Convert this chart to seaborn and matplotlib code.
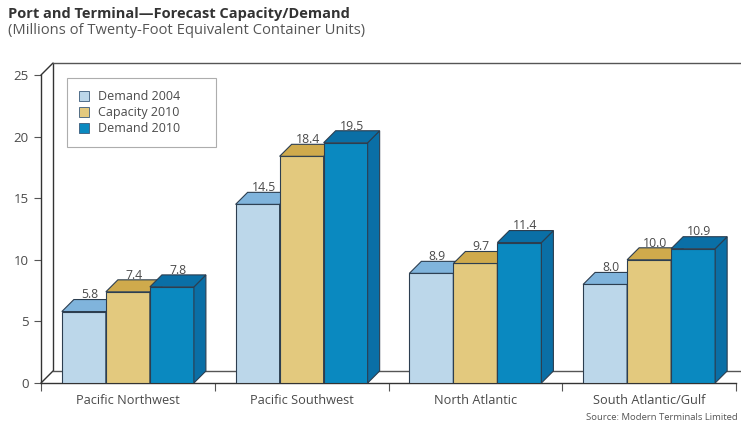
import matplotlib
matplotlib.use("Agg")
import matplotlib.pyplot as plt
from matplotlib.patches import Polygon, Patch
import seaborn as sns
import pandas as pd

# Forecast data (millions of TEU)
regions = ["Pacific Northwest", "Pacific Southwest", "North Atlantic", "South Atlantic/Gulf"]
series = ["Demand 2004", "Capacity 2010", "Demand 2010"]
demand_2004 = [5.8, 14.5, 8.9, 8.0]
capacity_2010 = [7.4, 18.4, 9.7, 10.0]
demand_2010 = [7.8, 19.5, 11.4, 10.9]
y_ticks = [0, 5, 10, 15, 20, 25]

front_colors = ["#bcd7ea", "#e3c97e", "#0a89c0"]
top_colors = ["#80b4dc", "#cfaa4c", "#0a6fa6"]
edge = "#2c3e50"
text_gray = "#4a4a4a"

df = pd.DataFrame({
    "region": regions * 3,
    "series": [s for s in series for _ in regions],
    "value": demand_2004 + capacity_2010 + demand_2010,
})

sns.set_theme(style="white")
plt.rcParams["font.family"] = ["Open Sans", "DejaVu Sans"]

fig = plt.figure(figsize=(7.41, 4.24), dpi=100)
ax = fig.add_axes([41 / 741, 41 / 424, 695 / 741, 308 / 424])

sns.barplot(data=df, x="region", y="value", hue="series", order=regions,
            hue_order=series, palette=front_colors, saturation=1, width=0.76, gap=0,
            edgecolor=edge, linewidth=0.8, legend=False, ax=ax)

ax.set_xlim(-0.5, 3.5)
ax.set_ylim(0, 25)

# depth of the pseudo-3D extrusion, in data units
px_x = 4.0 / 695
px_y = 25.0 / 308
dx, dy = 12 * px_x, 12 * px_y

# back wall and floor outline
wall_kw = dict(color="#333333", lw=1.0, clip_on=False, zorder=1)
ax.plot([-0.5, -0.5 + dx], [25, 25 + dy], **wall_kw)
ax.plot([-0.5 + dx, -0.5 + dx], [dy, 25 + dy], **wall_kw)
ax.plot([-0.5 + dx, 3.5 + dx], [25 + dy, 25 + dy], color="#555555", lw=1.0, clip_on=False, zorder=1)
ax.plot([-0.5, -0.5 + dx], [0, dy], **wall_kw)
ax.plot([-0.5 + dx, 3.5 + dx], [dy, dy], color="#555555", lw=1.0, clip_on=False, zorder=1)

# extrude each bar: top face and right side face
n = len(regions)
for i, bar in enumerate(ax.patches[: len(series) * n]):
    k = i // n
    bar.set_zorder(3 + 2 * k)
    x0 = bar.get_x()
    w = bar.get_width()
    h = bar.get_height()
    top = Polygon([(x0, h), (x0 + dx, h + dy), (x0 + w + dx, h + dy), (x0 + w, h)],
                  closed=True, facecolor=top_colors[k], edgecolor=edge, lw=0.8,
                  zorder=4 + 2 * k, clip_on=False)
    side = Polygon([(x0 + w, 0), (x0 + w + dx, dy), (x0 + w + dx, h + dy), (x0 + w, h)],
                   closed=True, facecolor=top_colors[k], edgecolor=edge, lw=0.8,
                   zorder=4 + 2 * k, clip_on=False)
    ax.add_patch(side)
    ax.add_patch(top)
    ax.text(x0 + w / 2 + dx / 2, h + dy + 0.1, f"{h:.1f}", ha="center", va="baseline",
            fontsize=8.8, color=text_gray, zorder=20)

# axes styling
for s in ["top", "right"]:
    ax.spines[s].set_visible(False)
for s in ["left", "bottom"]:
    ax.spines[s].set_color("#333333")
    ax.spines[s].set_linewidth(1.0)
    ax.spines[s].set_zorder(2)

ax.set_yticks(y_ticks)
ax.tick_params(axis="y", length=5, width=0.8, color="#555555", labelcolor=text_gray,
               labelsize=9.5, pad=4, left=True)
ax.set_xticks(range(len(regions)))
ax.set_xticklabels(regions)
ax.tick_params(axis="x", length=0, labelcolor=text_gray, labelsize=9.2, pad=8)
ax.set_xticks([-0.5, 0.5, 1.5, 2.5, 3.5], minor=True)
ax.tick_params(axis="x", which="minor", length=6, width=0.8, color="#555555", bottom=True)
ax.set_xlabel("")
ax.set_ylabel("")

handles = [Patch(facecolor=c, edgecolor="#3a5a7a", lw=0.6) for c in front_colors]
leg = ax.legend(handles, series, loc="upper left", bbox_to_anchor=(0.037, 0.89, 0.215, 0.1),
                mode="expand", fontsize=9, frameon=True, fancybox=False,
                handlelength=0.85, handleheight=0.85, handletextpad=0.7,
                labelspacing=0.25, borderpad=0.95, borderaxespad=0)
leg.get_frame().set_edgecolor("#999999")
leg.get_frame().set_linewidth(0.8)
for t in leg.get_texts():
    t.set_color(text_gray)
leg.set_zorder(30)

fig.text(8 / 741, 1 - 14 / 424, "Port and Terminal\u2014Forecast Capacity/Demand",
         fontsize=10.5, fontweight="bold", color="#333333", va="center", ha="left")
fig.text(8 / 741, 1 - 30 / 424, "(Millions of Twenty-Foot Equivalent Container Units)",
         fontsize=10.6, color="#555555", va="center", ha="left")
fig.text(738 / 741, 1 - 417 / 424, "Source: Modern Terminals Limited",
         fontsize=6.8, color="#555555", va="center", ha="right")

fig.savefig("out.png", dpi=100, facecolor="white")
